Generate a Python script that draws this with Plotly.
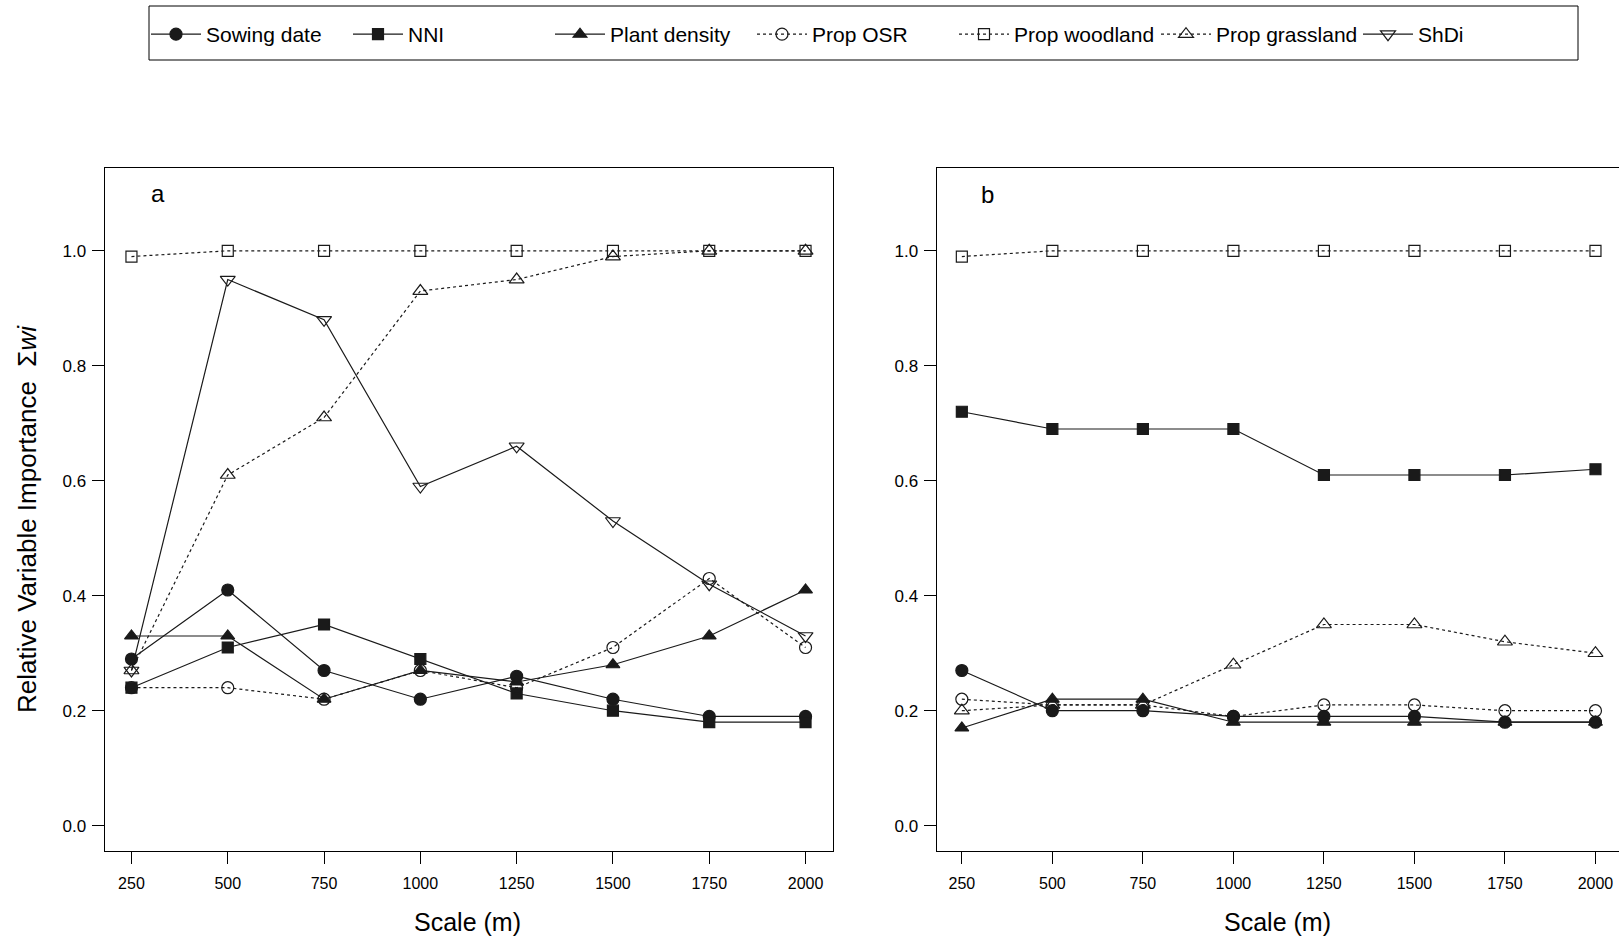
import plotly.graph_objects as go

W, H = 1619, 940

scales = [250, 500, 750, 1000, 1250, 1500, 1750, 2000]
tick_vals_x = [250, 500, 750, 1000, 1250, 1500, 1750, 2000]
tick_vals_y = [0.0, 0.2, 0.4, 0.6, 0.8, 1.0]

series_names = ["Sowing date", "NNI", "Plant density", "Prop OSR",
                "Prop woodland", "Prop grassland", "ShDi"]

# Panel a
a_sowing = [0.29, 0.41, 0.27, 0.22, 0.26, 0.22, 0.19, 0.19]
a_nni = [0.24, 0.31, 0.35, 0.29, 0.23, 0.20, 0.18, 0.18]
a_density = [0.33, 0.33, 0.22, 0.27, 0.25, 0.28, 0.33, 0.41]
a_osr = [0.24, 0.24, 0.22, 0.27, 0.24, 0.31, 0.43, 0.31]
a_wood = [0.99, 1.0, 1.0, 1.0, 1.0, 1.0, 1.0, 1.0]
a_grass = [0.27, 0.61, 0.71, 0.93, 0.95, 0.99, 1.0, 1.0]
a_shdi = [0.27, 0.95, 0.88, 0.59, 0.66, 0.53, 0.42, 0.33]

# Panel b
b_sowing = [0.27, 0.20, 0.20, 0.19, 0.19, 0.19, 0.18, 0.18]
b_nni = [0.72, 0.69, 0.69, 0.69, 0.61, 0.61, 0.61, 0.62]
b_density = [0.17, 0.22, 0.22, 0.18, 0.18, 0.18, 0.18, 0.18]
b_osr = [0.22, 0.21, 0.21, 0.19, 0.21, 0.21, 0.20, 0.20]
b_wood = [0.99, 1.0, 1.0, 1.0, 1.0, 1.0, 1.0, 1.0]
b_grass = [0.20, 0.21, 0.21, 0.28, 0.35, 0.35, 0.32, 0.30]

styles = {
    "Sowing date": dict(symbol="circle", size=12, dash="solid"),
    "NNI": dict(symbol="square", size=11, dash="solid"),
    "Plant density": dict(symbol="triangle-up", size=12, dash="solid"),
    "Prop OSR": dict(symbol="circle-open", size=12, dash="dot"),
    "Prop woodland": dict(symbol="square-open", size=11, dash="dot"),
    "Prop grassland": dict(symbol="triangle-up-open", size=13, dash="dot"),
    "ShDi": dict(symbol="triangle-down-open", size=13, dash="solid"),
}

panel_a = dict(zip(series_names, [a_sowing, a_nni, a_density, a_osr, a_wood, a_grass, a_shdi]))
panel_b = dict(zip(series_names[:6], [b_sowing, b_nni, b_density, b_osr, b_wood, b_grass]))

FONT = "Liberation Sans, Arial, sans-serif"
INK = "#1a1a1a"

fig = go.Figure()

for panel, (xa, ya, show) in [(panel_a, ("x", "y", True)), (panel_b, ("x2", "y2", False))]:
    for name, vals in panel.items():
        st = styles[name]
        fig.add_trace(go.Scatter(
            x=scales, y=vals, name=name, mode="lines+markers",
            xaxis=xa, yaxis=ya, showlegend=show, legendgroup=name,
            line=dict(color=INK, width=1.2, dash=st["dash"]),
            marker=dict(symbol=st["symbol"], size=st["size"], color=INK,
                        line=dict(color=INK, width=1.2)),
        ))

def px_x(p):
    return p / W

def px_y(p):
    return 1 - p / H

ydom = [px_y(851), px_y(168)]
axis_common = dict(
    showgrid=False, zeroline=False, showline=True, linecolor="black", linewidth=1,
    ticks="outside", ticklen=12, tickwidth=1, tickcolor="black",
)
xfont = dict(family=FONT, size=16, color="black")
yfont = dict(family=FONT, size=17, color="black")

def ann(text, x, y, size, angle=0):
    return dict(text=text, x=px_x(x), y=px_y(y), xref="paper", yref="paper",
                xanchor="center", yanchor="middle", textangle=angle,
                showarrow=False, font=dict(family=FONT, size=size, color="black"))

fig.update_layout(
    width=W, height=H, template="none",
    paper_bgcolor="white", plot_bgcolor="white",
    margin=dict(l=0, r=0, t=0, b=0),
    xaxis=dict(domain=[px_x(104.5), px_x(832.5)], range=[180, 2070], anchor="y",
               tickvals=tick_vals_x, mirror=True, ticklabelstandoff=6,
               tickfont=xfont, **axis_common),
    yaxis=dict(domain=ydom, range=[-0.044, 1.144], anchor="x",
               tickvals=tick_vals_y, tickformat=".1f", mirror=True,
               ticklabelstandoff=2, tickfont=yfont, **axis_common),
    xaxis2=dict(domain=[px_x(936.5), 1.0], range=[180, 2065], anchor="y2",
                tickvals=tick_vals_x, mirror=True, ticklabelstandoff=6,
                tickfont=xfont, **axis_common),
    yaxis2=dict(domain=ydom, range=[-0.044, 1.144], anchor="x2",
                tickvals=tick_vals_y, tickformat=".1f", mirror=False,
                ticklabelstandoff=2, tickfont=yfont, **axis_common),
    legend=dict(orientation="h", x=px_x(146), y=px_y(14), xanchor="left", yanchor="top",
                font=dict(family=FONT, size=21, color="black"),
                itemwidth=50, entrywidth=137, entrywidthmode="pixels",
                itemsizing="trace", borderwidth=0, bgcolor="rgba(0,0,0,0)",
                traceorder="normal"),
    shapes=[dict(type="rect", xref="paper", yref="paper",
                 x0=px_x(149), x1=px_x(1578), y0=px_y(60), y1=px_y(6),
                 line=dict(color="black", width=1), fillcolor="rgba(0,0,0,0)")],
    annotations=[
        ann("a", 158, 193, 24),
        ann("b", 987, 195, 24),
        ann("Scale (m)", 467, 922, 25),
        ann("Scale (m)", 1277, 922, 25),
        ann("Relative Variable Importance  Σ<i>wi</i>", 27, 519, 26, -90),
    ],
)

fig.write_html("out.html", config={"displayModeBar": False},
               post_script="document.body.style.margin='0';document.body.style.overflow='hidden';")
